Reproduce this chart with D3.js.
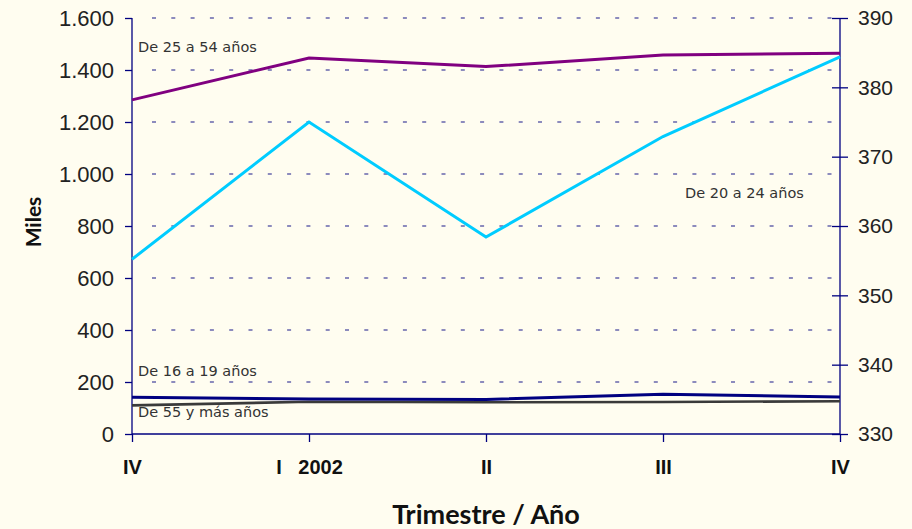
<!DOCTYPE html>
<html><head><meta charset="utf-8">
<script src="https://cdn.jsdelivr.net/npm/d3@7"></script>
<style>
html,body{margin:0;padding:0;background:#fffdf0;}
svg{display:block;font-family:Lato,"Noto Sans",sans-serif;}
</style></head>
<body><svg id="chart" width="912" height="529"></svg>
<script>
const quarters = ["IV", "I   2002", "II", "III", "IV"];
const leftTicks = [0, 200, 400, 600, 800, 1000, 1200, 1400, 1600];
const rightTicks = [330, 340, 350, 360, 370, 380, 390];
const age25to54 = [1285, 1446, 1413, 1458, 1464];   // left axis
const age16to19 = [141, 135, 133, 153, 142];        // left axis
const age55plus = [110, 124, 122, 123, 126];        // left axis
const age20to24 = [355.2, 375.0, 358.4, 372.9, 384.4]; // right axis

const svg = d3.select("#chart");
const W = 912, H = 529;
const m = {left: 132, right: 912 - 840, top: 18, bottom: 529 - 434};
const x = d3.scalePoint().domain(d3.range(quarters.length)).range([m.left, W - m.right]);
const yL = d3.scaleLinear().domain([0, 1600]).range([H - m.bottom, m.top]);
const yR = d3.scaleLinear().domain([330, 390]).range([H - m.bottom, m.top]);
const navy = "#000080";
const fmt = d3.formatLocale({decimal: ",", thousands: ".", grouping: [3], currency: ["", "€"]}).format(",d");

svg.append("rect").attr("width", W).attr("height", H).attr("fill", "#fffdf0");

// gridlines
svg.append("g").selectAll("line").data(leftTicks.filter(d => d > 0)).join("line")
  .attr("x1", m.left + 20).attr("x2", W - m.right - 8)
  .attr("y1", d => yL(d)).attr("y2", d => yL(d))
  .attr("stroke", navy).attr("stroke-width", 1.2).attr("stroke-opacity", 0.9)
  .attr("stroke-dasharray", "4 15.3");

// left axis
const gL = svg.append("g").attr("transform", `translate(${m.left},0)`)
  .call(d3.axisLeft(yL).tickValues(leftTicks).tickFormat(fmt).tickSize(7).tickPadding(11));
gL.selectAll("text").attr("font-size", 22).attr("fill", "#222");
// right axis
const gR = svg.append("g").attr("transform", `translate(${W - m.right},0)`)
  .call(d3.axisRight(yR).tickValues(rightTicks).tickSize(8).tickPadding(10));
gR.selectAll(".tick line").attr("x1", -8);
gR.selectAll("text").attr("font-size", 21).attr("fill", "#222");
// bottom axis
const gB = svg.append("g").attr("transform", `translate(0,${H - m.bottom})`)
  .call(d3.axisBottom(x).tickFormat(i => quarters[i]).tickSize(8).tickPadding(18));
gB.selectAll("text").attr("font-size", 20).attr("font-weight", "bold").attr("fill", "#111")
  .style("white-space", "pre");
[gL, gR, gB].forEach(g => {
  g.select(".domain").attr("stroke", navy).attr("stroke-width", 1.3);
  g.selectAll(".tick line").attr("stroke", navy).attr("stroke-width", 1.3);
});
gL.select(".domain").attr("d", `M0,${m.top}V${H - m.bottom}`);
gR.select(".domain").attr("d", `M0,${m.top}V${H - m.bottom}`);
gB.select(".domain").attr("d", `M${m.left},0H${W - m.right}`);

// lines
const lineL = d3.line().x((d, i) => x(i)).y(d => yL(d));
const lineR = d3.line().x((d, i) => x(i)).y(d => yR(d));
const series = [
  {data: age55plus, line: lineL, color: "#3a3a3a", w: 2.6},
  {data: age16to19, line: lineL, color: "#000080", w: 3},
  {data: age25to54, line: lineL, color: "#800080", w: 3},
  {data: age20to24, line: lineR, color: "#00ccff", w: 3},
];
svg.append("g").selectAll("path").data(series).join("path")
  .attr("d", s => s.line(s.data)).attr("fill", "none")
  .attr("stroke", s => s.color).attr("stroke-width", s => s.w)
  .attr("stroke-linejoin", "miter");

// annotations
const notes = [
  {t: "De 25 a 54 años", x: 138, y: 52},
  {t: "De 20 a 24 años", x: 685, y: 198},
  {t: "De 16 a 19 años", x: 138, y: 376},
  {t: "De 55 y más años", x: 138, y: 417},
];
svg.append("g").selectAll("text").data(notes).join("text")
  .attr("x", d => d.x).attr("y", d => d.y).text(d => d.t)
  .attr("font-family", "'DejaVu Sans', sans-serif")
  .attr("font-size", 14.5).attr("fill", "#333");

// axis titles
svg.append("text").attr("transform", "translate(41,222) rotate(-90)")
  .attr("text-anchor", "middle").attr("font-size", 21).attr("font-weight", "bold").attr("fill", "#111")
  .text("Miles");
svg.append("text").attr("x", 486).attr("y", 524)
  .attr("text-anchor", "middle").attr("font-size", 27).attr("font-weight", "bold").attr("fill", "#111")
  .text("Trimestre / Año");
</script></body></html>
